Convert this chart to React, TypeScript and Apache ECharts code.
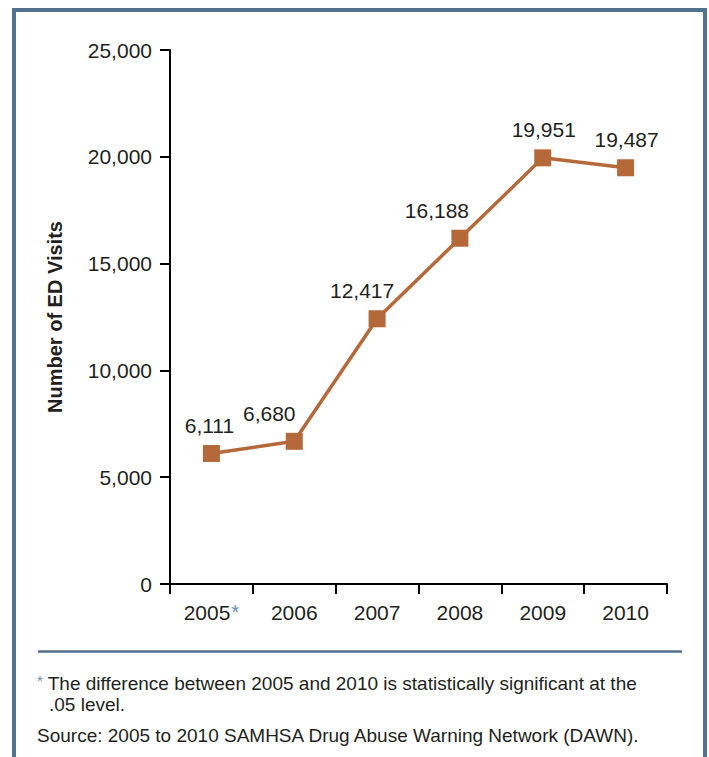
import React, { useEffect, useRef } from "react";
import * as echarts from "echarts";

const years = ["2005", "2006", "2007", "2008", "2009", "2010"];
const visits = [6111, 6680, 12417, 16188, 19951, 19487];
const yTicks = { min: 0, max: 25000, interval: 5000 };
const yAxisTitle = "Number of ED Visits";
const footnoteLine1 = " The difference between 2005 and 2010 is statistically significant at the";
const footnoteLine2 = ".05 level.";
const sourceText = "Source: 2005 to 2010 SAMHSA Drug Abuse Warning Network (DAWN).";
const starredYear = "2005";

const BLUE = "#52718f";
const STAR = "#6b8db0";
const LINE = "#b5683a";
const TEXT = "#231f20";

// horizontal nudges of the value labels (px), by point order
const labelNudge = [-2, -25, -15, -23, 1, 1];

const fmt = (v: number) => v.toLocaleString("en-US");

export default function App() {
  const ref = useRef<HTMLDivElement>(null);
  useEffect(() => {
    if (!ref.current) return;
    const chart = echarts.init(ref.current, null, { renderer: "svg" });
    chart.setOption({
      animation: false,
      backgroundColor: "#ffffff",
      grid: { left: 170, right: 42, top: 50, bottom: 173, outerBoundsMode: "none" },
      xAxis: {
        type: "category",
        data: years,
        boundaryGap: true,
        axisLine: { show: true, lineStyle: { color: "#000", width: 2 } },
        axisTick: { show: true, length: 10, lineStyle: { color: "#000", width: 2 } },
        axisLabel: {
          interval: 0,
          margin: 18,
          fontFamily: "Liberation Sans",
          fontSize: 21,
          color: TEXT,
          formatter: (v: string) => (v === starredYear ? `${v}{ast|*}` : v),
          rich: {
            ast: { color: STAR, fontSize: 20, verticalAlign: "top", padding: [0, 0, 0, 1], fontFamily: "Liberation Sans" },
          },
        },
        splitLine: { show: false },
      },
      yAxis: {
        type: "value",
        min: yTicks.min,
        max: yTicks.max,
        interval: yTicks.interval,
        name: yAxisTitle,
        nameLocation: "middle",
        nameRotate: 90,
        nameGap: 105,
        nameTextStyle: {
          fontFamily: "Liberation Sans",
          fontWeight: "bold",
          fontSize: 20,
          color: TEXT,
        },
        axisLine: { show: true, lineStyle: { color: "#000", width: 2 } },
        axisTick: { show: true, length: 10, lineStyle: { color: "#000", width: 2 } },
        axisLabel: {
          margin: 18,
          fontFamily: "Liberation Sans",
          fontSize: 21,
          color: TEXT,
          formatter: (v: number) => fmt(v),
        },
        splitLine: { show: false },
      },
      series: [
        {
          type: "line",
          data: visits.map((v, i) => ({
            value: v,
            label: { offset: [labelNudge[i], 0] },
          })),
          symbol: "rect",
          symbolSize: 17,
          lineStyle: { color: LINE, width: 3.5 },
          itemStyle: { color: LINE },
          label: {
            show: true,
            position: "top",
            distance: 9,
            fontFamily: "Liberation Sans",
            fontSize: 21,
            color: TEXT,
            formatter: (p: any) => fmt(p.value),
          },
        },
      ],
      graphic: [
        {
          type: "rect",
          shape: { x: 14, y: 10, width: 691, height: 800 },
          style: { fill: "none", stroke: BLUE, lineWidth: 4 },
          silent: true,
        },
        {
          type: "line",
          shape: { x1: 38, y1: 651.5, x2: 682, y2: 651.5 },
          style: { stroke: BLUE, lineWidth: 2.5 },
          silent: true,
        },
        {
          type: "text",
          x: 37,
          y: 683,
          style: {
            text: `{ast|*}${footnoteLine1}`,
            fontFamily: "Liberation Sans",
            fontSize: 19,
            fill: TEXT,
            verticalAlign: "middle",
            rich: { ast: { fill: STAR, fontSize: 15, verticalAlign: "top", padding: [0, 0, 6, 0] } },
          },
        },
        {
          type: "text",
          x: 49,
          y: 704,
          style: { text: footnoteLine2, fontFamily: "Liberation Sans", fontSize: 19, fill: TEXT, verticalAlign: "middle" },
        },
        {
          type: "text",
          x: 37,
          y: 735,
          style: { text: sourceText, fontFamily: "Liberation Sans", fontSize: 19, fill: TEXT, verticalAlign: "middle" },
        },
      ],
    });
    return () => chart.dispose();
  }, []);
  return (
    <div
      ref={ref}
      style={{ position: "absolute", left: 0, top: 0, width: 709, height: 757 }}
    />
  );
}
